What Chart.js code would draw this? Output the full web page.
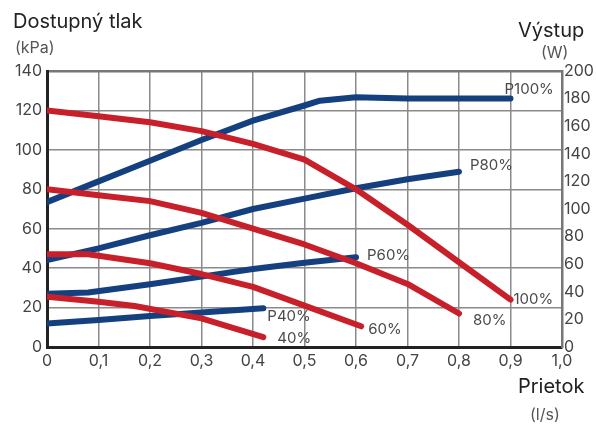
<!DOCTYPE html>
<html>
<head>
<meta charset="utf-8">
<script src="https://cdn.jsdelivr.net/npm/chart.js@4"></script>
<style>
  html, body { margin: 0; padding: 0; background: #fff; }
  #wrap { width: 596px; height: 425px; }
</style>
</head>
<body>
<div id="wrap"><canvas id="pumpChart" width="596" height="425"></canvas></div>
<script>
// flow (l/s) and pressure (kPa) for the red curves
const flow100 = [0, 0.1, 0.2, 0.3, 0.4, 0.5, 0.6, 0.7, 0.8, 0.9];
const kpa100  = [120, 117, 114, 109.5, 103, 95, 80, 62, 43, 24];
const flow80  = [0, 0.1, 0.2, 0.3, 0.4, 0.5, 0.6, 0.7, 0.8];
const kpa80   = [80, 77, 74, 68, 60, 52, 42.5, 32, 17];
const flow60  = [0, 0.08, 0.2, 0.3, 0.4, 0.5, 0.61];
const kpa60   = [47, 47, 42.5, 37, 30.5, 21, 10.5];
const flow40  = [0, 0.1, 0.17, 0.3, 0.42];
const kpa40   = [25.5, 23, 20.8, 14.5, 5];

// flow (l/s) and power (W) for the blue curves
const flowP100 = [0, 0.1, 0.2, 0.3, 0.4, 0.5, 0.53, 0.6, 0.7, 0.9];
const wattP100 = [105, 120, 135, 150, 164, 175, 178.5, 181, 180, 180];
const flowP80  = [0, 0.1, 0.2, 0.3, 0.4, 0.5, 0.6, 0.7, 0.8];
const wattP80  = [63, 71.5, 81, 90, 100, 107.5, 115, 121.5, 127];
const flowP60  = [0, 0.08, 0.2, 0.3, 0.4, 0.5, 0.6];
const wattP60  = [38.5, 39.5, 45.5, 51, 56.5, 61, 65];
const flowP40  = [0, 0.1, 0.2, 0.3, 0.42];
const wattP40  = [17, 19.5, 22.5, 25, 28];

const xTickLabels = ['0', '0,1', '0,2', '0,3', '0,4', '0,5', '0,6', '0,7', '0,8', '0,9', '1,0'];
const curveLabels = ['100%', '80%', '60%', '40%', 'P100%', 'P80%', 'P60%', 'P40%'];
// pixel offset of each label from the end of its curve
const labelOffsets = [[3, 4], [14, 12], [7, 8], [14, 6], [-6, -5], [11, -2], [11, 3], [4, 13]];

const RED = '#c8202b';
const BLUE = '#15407f';
const FONT = 'Inter';

function pts(xs, ys) { return xs.map((x, i) => ({ x: x, y: ys[i] })) }
function line(xs, ys, color, axis) {
    return {
        data: pts(xs, ys), yAxisID: axis, borderColor: color, backgroundColor: color,
        borderWidth: 6, pointRadius: 0, tension: 0, fill: false,
        borderCapStyle: 'round', borderJoinStyle: 'round'
    }
}

const datasets = [
    line(flow100, kpa100, RED, 'y'),
    line(flow80, kpa80, RED, 'y'),
    line(flow60, kpa60, RED, 'y'),
    line(flow40, kpa40, RED, 'y'),
    line(flowP100, wattP100, BLUE, 'y1'),
    line(flowP80, wattP80, BLUE, 'y1'),
    line(flowP60, wattP60, BLUE, 'y1'),
    line(flowP40, wattP40, BLUE, 'y1')
];

// titles and curve labels
const textPlugin = {
    id: 'texts',
    afterDraw(chart) {
        const ctx = chart.ctx;
        ctx.save();
        ctx.fillStyle = '#222';
        ctx.textBaseline = 'alphabetic';
        ctx.textAlign = 'left';
        ctx.font = '20px ' + FONT;
        ctx.fillText('Dostupný tlak', 13, 28);
        ctx.fillText('Výstup', 518, 37);
        ctx.fillText('Prietok', 518, 393);
        ctx.fillStyle = '#555';
        ctx.font = '16px ' + FONT;
        ctx.fillText('(kPa)', 15, 53);
        ctx.fillText('(W)', 541, 58);
        ctx.fillText('(l/s)', 530, 420);

        ctx.font = '15px ' + FONT;
        ctx.fillStyle = '#4a4a4a';
        chart.data.datasets.forEach((ds, i) => {
            const last = ds.data[ds.data.length - 1];
            const px = chart.scales.x.getPixelForValue(last.x);
            const py = chart.scales[ds.yAxisID].getPixelForValue(last.y);
            ctx.fillText(curveLabels[i], px + labelOffsets[i][0], py + labelOffsets[i][1]);
        });
        ctx.restore();
    }
};

const tickFont = { family: FONT, size: 16 };

new Chart(document.getElementById('pumpChart'), {
    type: 'line',
    data: { datasets: datasets },
    options: {
        responsive: false,
        animation: false,
        layout: { padding: { top: 71, left: 0, right: 0, bottom: 0 } },
        plugins: { legend: { display: false }, tooltip: { enabled: false } },
        scales: {
            x: {
                type: 'linear', min: 0, max: 1,
                ticks: { stepSize: 0.1, color: '#444', font: tickFont, padding: 5,
                    callback: (v, i) => xTickLabels[i] },
                grid: { color: '#8a8a8a', lineWidth: 1.5, drawTicks: false },
                border: { color: '#222', width: 3 },
                afterFit: s => { s.height = 78 }
            },
            x2: {
                type: 'linear', position: 'top', min: 0, max: 1,
                ticks: { display: false },
                grid: { display: false, drawTicks: false },
                border: { color: '#777', width: 2.5 },
                afterFit: s => { s.height = 0 }
            },
            y: {
                position: 'left', min: 0, max: 140,
                ticks: { stepSize: 20, color: '#444', font: tickFont, padding: 5 },
                grid: { color: '#8a8a8a', lineWidth: 1.5, drawTicks: false },
                border: { color: '#222', width: 3 },
                afterFit: s => { s.width = 47 }
            },
            y1: {
                position: 'right', min: 0, max: 200,
                ticks: { stepSize: 20, color: '#444', font: tickFont, padding: 2 },
                grid: { display: false, drawTicks: false },
                border: { color: '#777', width: 2.5 },
                afterFit: s => { s.width = 34 }
            }
        }
    },
    plugins: [textPlugin]
});
</script>
</body>
</html>
